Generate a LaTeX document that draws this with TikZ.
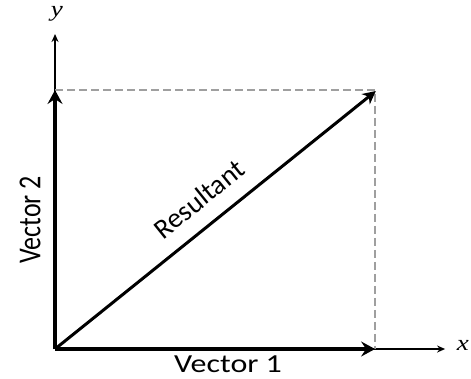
\documentclass[tikz,border=0pt]{standalone}
\usepackage{fontspec}
\newfontfamily\lblfont{Carlito}
\newfontfamily\axfont{Liberation Serif}
\usetikzlibrary{arrows.meta}
\begin{document}
\begin{tikzpicture}[x=1pt,y=-1pt,
  vec/.style={line width=4.5pt, -{Stealth[length=14pt,width=15pt,inset=5pt]}},
  res/.style={line width=3pt, -{Stealth[length=13pt,width=13pt,inset=4pt]}},
  axis/.style={line width=1.3pt, -{Stealth[length=8pt,width=7pt]}},
  guide/.style={line width=1.3pt, draw=gray!75, dash pattern=on 8pt off 4pt},
  lbl/.style={font=\lblfont\fontsize{26}{30}\selectfont, inner sep=0pt},
  axlbl/.style={font=\axfont\itshape\fontsize{22}{26}\selectfont, inner sep=0pt}]
\begin{scope}[xscale=1.23, transform shape]
\useasboundingbox (0,0) rectangle (382.93,378);
\coordinate (O) at (44.72,349);
\coordinate (XT) at (361.79,349);
\coordinate (YT) at (44.72,34);
\coordinate (V1) at (304.88,349);
\coordinate (V2) at (44.72,90);
\coordinate (R) at (305.5,91);
\coordinate (C) at (304.88,90);
% axes
\draw[axis] (O) -- (XT);
\draw[axis] (O) -- (YT);
\node[axlbl] (xl) at (376.4,345) {x};
\node[axlbl] (yl) at (46.3,14) {y};
% dashed guides
\draw[guide] (V2) -- (C) -- (V1);
% vectors
\draw[vec] (O) -- (V1);
\draw[vec] (O) -- (V2);
\draw[res] (O) -- (R);
% labels
\node[lbl] (v1l) at (185.4,364) {Vector 1};
\node[lbl, rotate=90] (v2l) at (24.4,220) {Vector 2};
\end{scope}
\node[font=\lblfont\fontsize{28}{32}\selectfont, inner sep=0pt, rotate=38.8] (rl) at (199,199) {Resultant};
\end{tikzpicture}
\end{document}
